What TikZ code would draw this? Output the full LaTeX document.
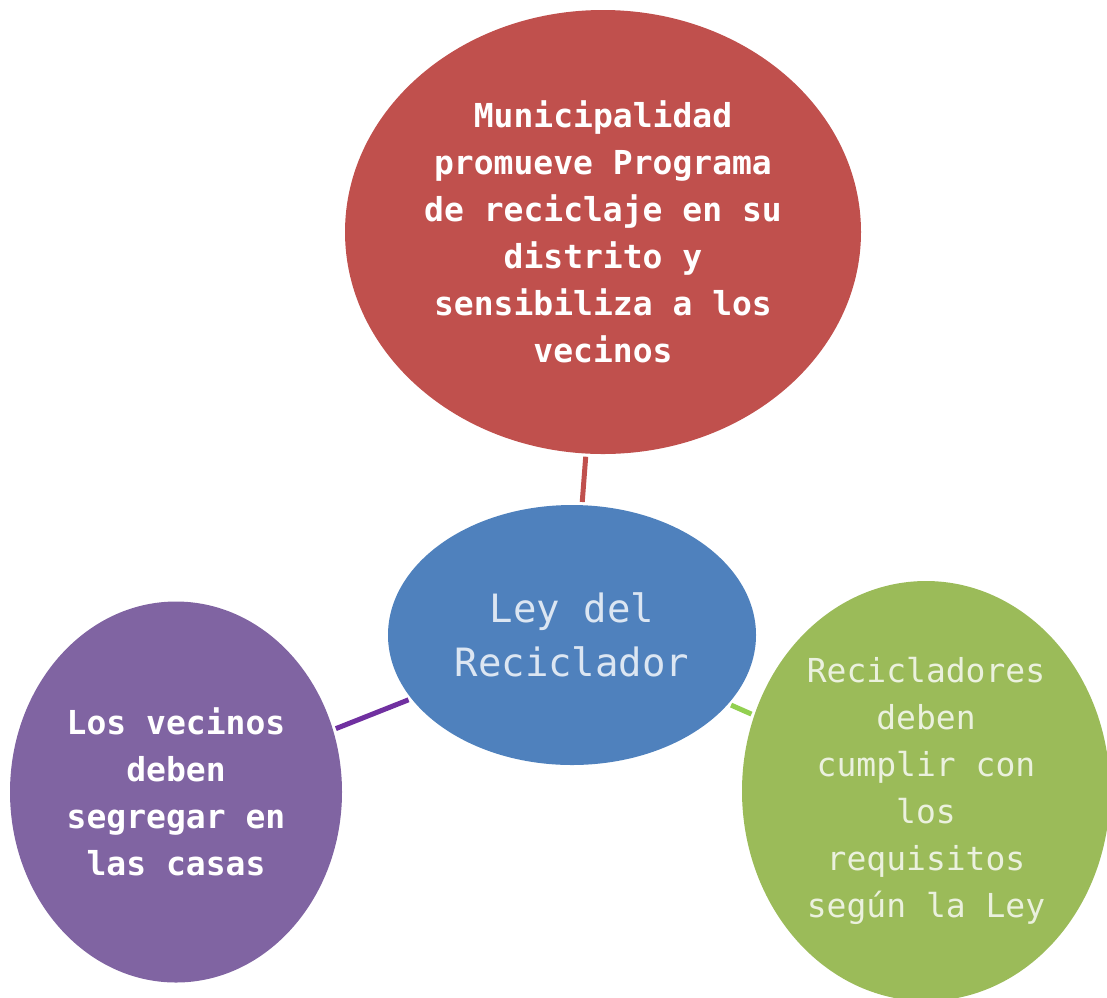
\documentclass[tikz,border=0pt]{standalone}
\usepackage{fontspec}
\usepackage{xcolor}
\usepackage{tikz}
\usetikzlibrary{shapes.geometric}
\newfontfamily\monofont{DejaVu Sans Mono}

\definecolor{rojo}{HTML}{C0504D}
\definecolor{azul}{HTML}{4F81BD}
\definecolor{morado}{HTML}{8064A2}
\definecolor{verde}{HTML}{9BBB59}
\definecolor{lineamorado}{HTML}{7030A0}
\definecolor{lineaverde}{HTML}{92D050}
\definecolor{textoazul}{HTML}{DCE6F2}
\definecolor{textoverde}{HTML}{EBF1DE}

\tikzset{
  burbuja/.style={ellipse, inner sep=0pt, align=center, font=\monofont\fontsize{33}{47}\selectfont},
  enlace/.style={line width=5pt, shorten <=3pt, shorten >=3pt}
}

\begin{document}
\begin{tikzpicture}[x=1pt, y=-1pt]
        \useasboundingbox (0,0) rectangle (1107,997);

        % Bulle centrale
        \node[burbuja, fill=azul, text=textoazul, minimum width=368pt, minimum height=260pt,
              font=\monofont\fontsize{39}{54}\selectfont] (ley) at (572,635) {Ley del\\Reciclador};

        % Bulles autour
        \node[burbuja, fill=rojo, text=white, minimum width=516pt, minimum height=444pt,
              font=\monofont\bfseries\fontsize{33}{47}\selectfont] (municipalidad) at (603,232)
              {Municipalidad\\promueve Programa\\de reciclaje en su\\distrito y\\sensibiliza a los\\vecinos};
        \node[burbuja, fill=morado, text=white, minimum width=332pt, minimum height=381pt,
              font=\monofont\bfseries\fontsize{33}{47}\selectfont] (vecinos) at (176,792)
              {Los vecinos\\deben\\segregar en\\las casas};
        \node[burbuja, fill=verde, text=textoverde, minimum width=368pt, minimum height=420pt] (recicladores) at (926,791)
              {Recicladores\\deben\\cumplir con\\los\\requisitos\\según la Ley};

        % Liens
        \draw[enlace, rojo] (municipalidad) -- (ley);
        \draw[enlace, lineamorado] (vecinos) -- (ley);
        \draw[enlace, lineaverde] (ley) -- (recicladores);
    \end{tikzpicture}
\end{document}
